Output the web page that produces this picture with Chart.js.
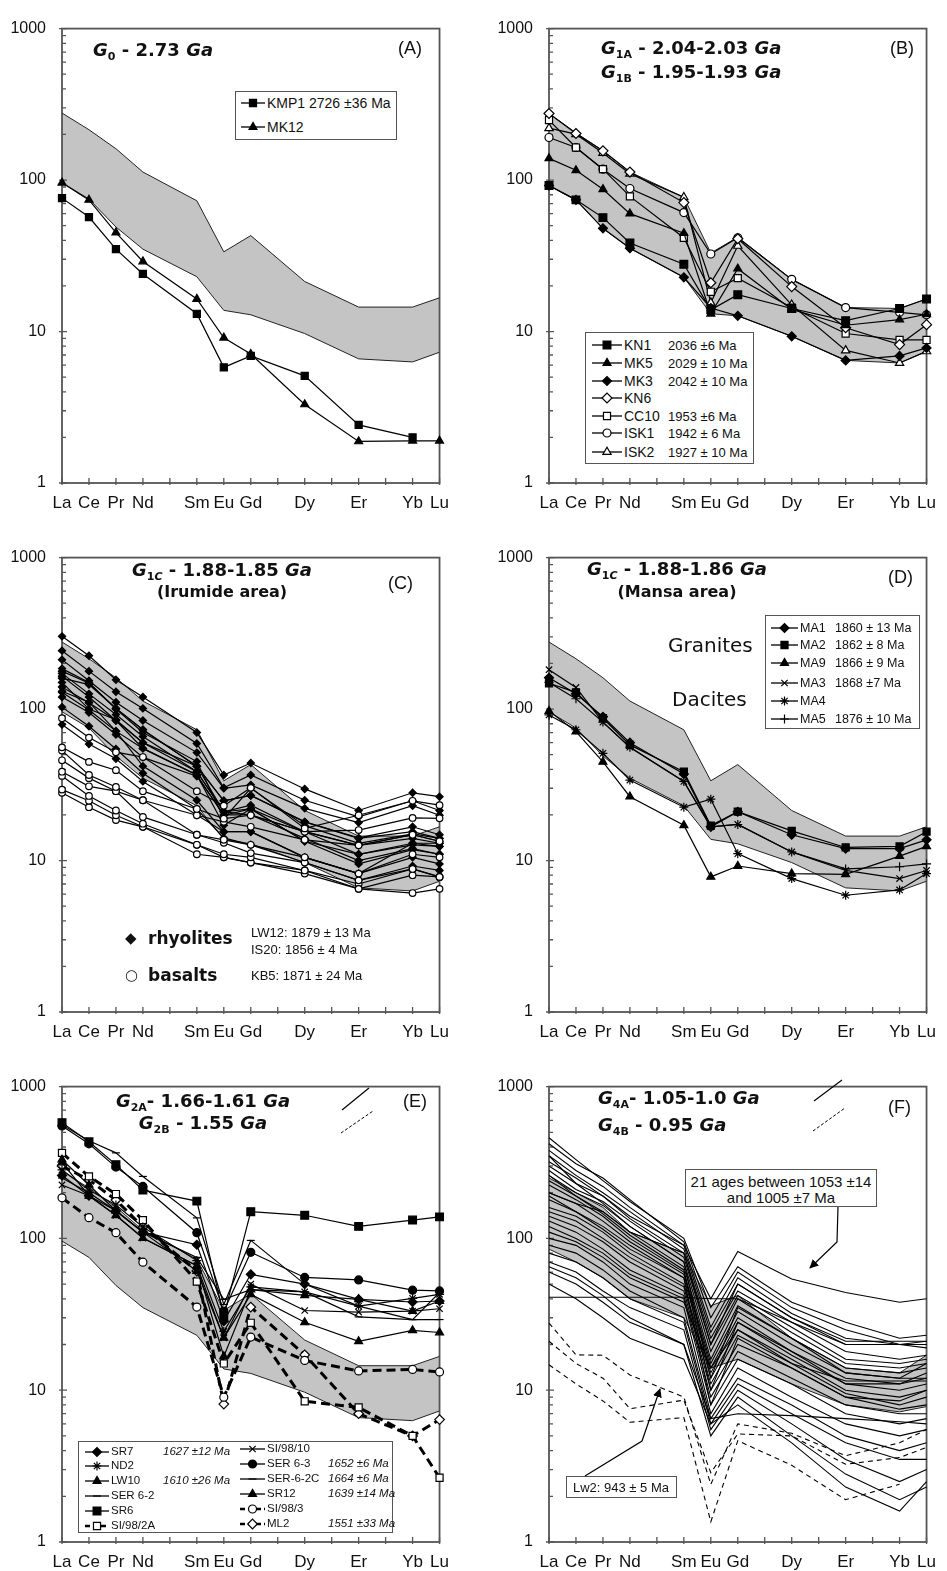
<!DOCTYPE html>
<html><head><meta charset="utf-8"><title>REE patterns</title>
<script src="https://cdn.jsdelivr.net/npm/chart.js@4/dist/chart.umd.js"></script>
<style>
html,body{margin:0;padding:0;background:#fff;}
#wrap{position:relative;width:947px;height:1571px;overflow:hidden;background:#fff;}
#wrap canvas{position:absolute;}
.t{position:absolute;white-space:nowrap;color:#111;line-height:1;font-family:"Liberation Sans",Arial,sans-serif;}
.ttl{font-family:"DejaVu Sans",sans-serif;font-weight:bold;font-size:18px;}
.ttl sub{font-size:11px;vertical-align:-4px;line-height:0;}
.pl{font-size:18px;}
.box{position:absolute;border:1.5px solid #555;background:#fff;box-sizing:border-box;}
svg#ann{position:absolute;left:0;top:0;}
</style></head>
<body><div id="wrap"></div>
<script>
// ---------------- axes ----------------
const ELEMENTS = ['La','Ce','Pr','Nd','Pm','Sm','Eu','Gd','Tb','Dy','Ho','Er','Tm','Yb','Lu'];
const X_TICK_LABELS = ['La','Ce','Pr','Nd','','Sm','Eu','Gd','','Dy','','Er','','Yb','Lu'];
const REE = ['La','Ce','Pr','Nd','Sm','Eu','Gd','Dy','Er','Yb','Lu'];
const Y_TICKS = [1, 10, 100, 1000];
const Y_MINOR = [2,3,4,5,6,7,8,9,20,30,40,50,60,70,80,90,200,300,400,500,600,700,800,900];

// ---------------- shared granite/dacite envelope ----------------
const GRANITE_UPPER = [277, 215, 161, 113, 73, 33.6, 43, 21.4, 14.5, 14.5, 16.7];
const GRANITE_LOWER = [96, 75, 49, 35, 23, 13.8, 12.9, 9.7, 6.6, 6.3, 7.3];

// ---------------- (A) ----------------
const A_KMP1 = [76, 57, 35, 24, 13.1, 5.8, 6.9, 5.1, 2.42, 2.0, null];
const A_MK12 = [96, 74, 45, 29, 16.4, 9.1, 7.1, 3.3, 1.88, 1.9, 1.9];

// ---------------- (B) ----------------
const B_ENV_UPPER = [275, 205, 156, 113, 77, 33, 42, 22.1, 14.4, 14.2, 16.4];
const B_ENV_LOWER = [92, 74, 48, 35.5, 22.8, 13.1, 12.7, 9.3, 6.45, 6.2, 7.4];
const B_KN1  = [92, 74, 56.5, 38.4, 27.8, 13.9, 17.5, 14.2, 11.8, 14.2, 16.4];
const B_MK5  = [139, 116, 87, 60, 44.6, 13.1, 26, 14, 11, 12, 13];
const B_MK3  = [92, 74, 48, 35.5, 22.8, 14.3, 12.7, 9.3, 6.45, 6.9, 7.8];
const B_KN6  = [275, 203, 156, 113, 71, 21, 41, 19.8, 10.6, 8.2, 11.1];
const B_CC10 = [249, 164, 118, 78, 41.6, 18.3, 22.5, 14.4, 9.7, 8.8, 8.8];
const B_ISK1 = [191, 164, 118, 88, 61, 32.5, 41.6, 22.1, 14.4, 13.4, 12.9];
const B_ISK2 = [220, 201, 151, 110, 77, 15.5, 36.8, 15, 7.5, 6.2, 7.4];

// ---------------- (C) rhyolites ----------------
const C_R01 = [302, 225, 156, 120, 70, 36.7, 44, 29.7, 21.4, 28, 26.4];
const C_R02 = [243, 178, 130, 101, 59.3, 30.2, 36.7, 25, 19.4, 24.8, 21.4];
const C_R03 = [212, 154, 111, 84, 51.6, 30, 31.6, 22.1, 17.8, 23, 19.9];
const C_R04 = [178, 148, 101, 73, 42, 24.8, 26.9, 18, 14.1, 16.7, 14.8];
const C_R05 = [172, 126, 92, 66, 38.6, 21, 23.2, 15.5, 12.6, 14.8, 13.4];
const C_R06 = [165, 120, 84, 55, 36.7, 19.9, 21.9, 13.4, 11, 12.7, 12.4];
const C_R07 = [131, 111, 71.5, 55, 36.7, 17.1, 21.9, 13.4, 9.5, 11.8, 11];
const C_R08 = [129, 98.6, 71.5, 42, 25, 15.5, 15.5, 10.5, 8.2, 10.5, 9.5];
const C_R09 = [103, 77, 54.5, 37.7, 21.9, 14.1, 12.7, 9.7, 7.4, 9.2, 8.6];
const C_R10 = [79, 58.7, 47, 33.3, 20, 15.5, 15.5, 10.5, 8.2, 13, 13];
const C_R11 = [160, 145, 101, 73, 42, 24.8, 26.9, 18, 14, 15.5, 14];
const C_R12 = [140, 110, 84, 60, 38.6, 21, 20, 15.5, 12.6, 14, 13];
const C_R13 = [150, 100, 85, 60, 42, 21, 21.9, 15.5, 11, 13, 12.4];
const C_R14 = [120, 95, 68, 48, 36, 20, 20, 14, 10, 12, 11];
const C_R15 = [185, 150, 100, 70, 45, 19, 30, 17, 13, 15, 14];
// ---------------- (C) basalts ----------------
const C_B01 = [87, 64.8, 51.9, 48.2, 28.7, 23, 30.2, 16.3, 19.9, 24.8, 23.2];
const C_B02 = [55.9, 44.8, 39.5, 28.7, 21.9, 18.9, 19.9, 15.5, 15.9, 19.1, 19];
const C_B03 = [53.2, 36.7, 30.6, 25, 19.9, 18, 16.7, 13.7, 12.6, 14.8, 13.4];
const C_B04 = [45.9, 35, 28.7, 25, 14.8, 13.7, 12.7, 10.5, 8.2, 11, 10.5];
const C_B05 = [38.6, 30.9, 28.7, 19.4, 14.8, 13.1, 11.2, 9.7, 7.4, 8.8, 7.8];
const C_B06 = [36.2, 26.7, 21.4, 17.5, 12.7, 11, 10.5, 8.6, 6.5, 8, 7.8];
const C_B07 = [29.4, 24.8, 19.9, 16.7, 12.7, 10.5, 9.7, 8.2, 6.5, 6.1, 6.5];
const C_B08 = [28, 22.5, 18.5, 16.7, 11, 10.5, 9.7, 8.6, 7, 8.8, 7.8];

// ---------------- (D) ----------------
const D_MA1 = [161, 126, 89, 60, 37.3, 16.7, 21, 14.8, 12, 12, 13.7];
const D_MA2 = [148, 129, 87, 58, 38.6, 17, 21, 15.7, 12.2, 12.4, 15.5];
const D_MA9 = [97, 71, 44.8, 26.4, 17.1, 7.8, 9.2, 8.2, 8.1, 10.7, 12.4];
const D_MA3 = [182, 139, 82, 56, 33.3, 16.7, 17.3, 11.4, 8.6, 7.6, 8.6];
const D_MA4 = [91.5, 73, 51, 34, 22.5, 25.4, 11.1, 7.6, 5.9, 6.4, 8.2];
const D_MA5 = [150, 117, 82, 55.9, 33.3, 16.7, 17.3, 11.4, 8.8, 9.1, 9.5];

// ---------------- (E) ----------------
const E_SR7    = [260, 191, 152, 110, 90.8, 28.5, 58, 50, 39.7, 38.1, 38.7];
const E_ND2    = [283, 208, 166, 119, 71.4, 24.4, 48, 44.4, 35.8, 40.3, 42.8];
const E_LW10   = [316, 191, 142, 100.5, 66, 16.7, 46, 42.2, 39.7, 33.2, 38.7];
const E_SER62  = [560, 440, 366, 256, 136.5, 36.7, 97, 50, 35.8, 29.2, 29.2];
const E_SR6    = [579, 433, 306, 208, 176, 30.8, 150, 142, 120, 132, 138.6];
const E_SI982A = [366, 256, 196, 132, 52, 15, 27.8, 8.45, 7.7, 5.0, 2.65];
const E_SI9810 = [225, 191, 142, 100.5, 66, 22.1, 50, 33.5, 32.7, 33.2, 34.4];
const E_SER63  = [550, 420, 295, 220, 109, 33.2, 81, 55.3, 53.3, 45.6, 45.1];
const E_SER62C = [250, 200, 152, 110, 75, 39.7, 46, 44.4, 30.4, 29.2, 44];
const E_SR12   = [330, 225, 152, 110, 61, 22.1, 42.8, 28, 21, 24.8, 24];
const E_SI983  = [185, 137, 109, 69.7, 35.3, 9, 22.4, 15.7, 13.4, 13.7, 13.2];
const E_ML2    = [300, 243, 179, 119, 61, 8.1, 35.3, 17.1, 7, 5.0, 6.4];

// ---------------- (F) ----------------
const F_ENV_UPPER = [250, 200, 160, 110, 80, 36, 42, 22, 14, 13, 17];
const F_ENV_LOWER = [85, 70, 55, 40, 30, 14, 16, 11, 8, 7.2, 7.8];
const F_L01 = [460, 330, 240, 175, 100, 35, 65, 38, 28, 22, 23];
const F_L02 = [420, 310, 250, 180, 95, 30, 60, 35, 25, 20, 21];
const F_L03 = [380, 280, 220, 160, 90, 26, 55, 32, 22, 20, 20];
const F_L04 = [350, 260, 200, 150, 85, 24, 50, 30, 20, 20, 19];
const F_L05 = [320, 250, 190, 135, 80, 22, 45, 28, 18, 16, 17];
const F_L06 = [300, 230, 190, 140, 90, 40, 82, 54, 44, 38, 40];
const F_L07 = [280, 210, 175, 130, 75, 20, 42, 26, 16, 15, 16];
const F_L08 = [260, 200, 165, 120, 70, 18, 40, 24, 15, 14, 15];
const F_L09 = [240, 190, 150, 110, 65, 16, 36, 22, 14, 13, 14];
const F_L10 = [225, 180, 140, 100, 60, 15, 33, 20, 13, 12, 12];
const F_L11 = [200, 170, 130, 95, 58, 14, 30, 18, 12, 11, 12];
const F_L12 = [180, 150, 120, 90, 55, 13, 28, 17, 11, 10, 11];
const F_L13 = [160, 140, 110, 80, 50, 12, 25, 16, 10, 9, 10];
const F_L14 = [150, 130, 100, 75, 48, 11, 23, 15, 9.5, 8, 9];
const F_L15 = [140, 120, 95, 70, 45, 10, 20, 14, 9, 7.5, 8];
const F_L16 = [130, 110, 85, 62, 42, 9, 18, 12, 8, 7, 7];
const F_L17 = [120, 100, 80, 58, 40, 8, 16, 11, 7, 6, 6.5];
const F_L18 = [100, 90, 70, 50, 35, 7, 14, 9, 6, 5, 5.5];
const F_L19 = [90, 80, 62, 45, 30, 6.5, 12, 8, 5, 4, 4.5];
const F_L20 = [80, 70, 55, 40, 28, 6, 11, 7, 4.5, 3.5, 3.5];
const F_L21 = [70, 60, 45, 35, 25, 5.5, 10, 6, 3.5, 2.5, 3];
const F_L22 = [60, 50, 38, 28, 20, 5, 9, 5, 2.8, 1.9, 2.3];
const F_L23 = [50, 40, 30, 22, 16, 6, 8, 4.5, 2.3, 1.6, 2.5];
const F_L24 = [41, 41, 41, 41, 41, 40, 40, 28, 20, 20, 20];
const F_L25 = [200, 170, 150, 110, 80, 20, 50, 30, 21, 21, 21];
const F_L26 = [350, 230, 170, 120, 70, 12, 35, 22, 13, 12, 15];
const F_L27 = [260, 190, 145, 105, 62, 10, 28, 18, 11, 11, 13];
const F_L28 = [190, 150, 115, 85, 55, 8, 22, 14, 9, 8.5, 10];
const F_L29 = [65, 55, 42, 30, 20, 6.5, 7, 6.8, 6.5, 6.2, 6];
const F_L30 = [110, 95, 75, 55, 38, 14, 25, 15, 11.5, 11.5, 11.5];
const F_LW2a = [27.7, 17.1, 17, 12.6, 9.0, 2.4, 6.0, 5.2, 3.7, 4.5, 5.5];
const F_LW2b = [21, 15, 12, 7.55, 8.6, 2.86, 5.15, 5, 3.25, 3.6, 4.2];
const F_LW2c = [14.7, 11, 8.5, 6.15, 6.6, 1.36, 4.65, 3.2, 1.9, 2.4, null];

// ---------------- geometry ----------------
const PANELS = {
  A:{l:62, t:15, r:445, b:483}, B:{l:549, t:15, r:932, b:483},
  C:{l:62, t:544, r:445, b:1012}, D:{l:549, t:544, r:932, b:1012},
  E:{l:62, t:1073, r:445, b:1542}, F:{l:549, t:1073, r:932, b:1542}
};
const wrap = document.getElementById('wrap');

function pts(vals){
  const out = [];
  vals.forEach((v,i)=>{ if(v!=null) out.push({x: ELEMENTS.indexOf(REE[i]), y: v}); });
  return out;
}
function series(vals, st){
  st = st || {};
  return {
    data: pts(vals), borderColor:'#000', borderWidth: st.lw || 1.2, borderDash: st.dash || [],
    pointStyle: st.ps || 'circle', pointRadius: st.ps ? (st.r || 4) : 0,
    pointBackgroundColor: st.open ? '#fff' : '#000', pointBorderColor:'#000', pointBorderWidth: 1.2,
    fill:false, tension:0, clip:false, order:0
  };
}
function envelope(upper, lower){
  return [
    {data:pts(upper), borderColor:'#222', borderWidth:1, pointRadius:0, fill:'+1', backgroundColor:'#c4c4c4', tension:0, order:5},
    {data:pts(lower), borderColor:'#222', borderWidth:1, pointRadius:0, fill:false, backgroundColor:'#c4c4c4', tension:0, order:5}
  ];
}

const framePlugin = {
  id:'frame',
  beforeDatasetsDraw(chart){
    const {ctx, chartArea:a, scales:{x, y}} = chart;
    ctx.save();
    ctx.strokeStyle = '#555'; ctx.lineWidth = 1.8;
    ctx.strokeRect(a.left, a.top, a.right - a.left, a.bottom - a.top);
    ctx.lineWidth = 1.3;
    ctx.beginPath();
    for (let i = 0; i < ELEMENTS.length; i++){
      const px = x.getPixelForValue(i);
      ctx.moveTo(px, a.bottom + 2); ctx.lineTo(px, a.bottom - 5);
    }
    Y_MINOR.forEach(v=>{ const py = y.getPixelForValue(v); ctx.moveTo(a.left, py); ctx.lineTo(a.left + 4, py); });
    Y_TICKS.forEach(v=>{ const py = y.getPixelForValue(v); ctx.moveTo(a.left - 3, py); ctx.lineTo(a.left + 5, py); });
    ctx.stroke();
    ctx.restore();
  }
};

function makeChart(key, datasets){
  const rc = PANELS[key];
  const PADL = 55, PADT = 12, PADR = 14, PADB = 32;
  const w = rc.r - rc.l + PADL + PADR, h = rc.b - rc.t + PADT + PADB;
  const cv = document.createElement('canvas');
  cv.width = w; cv.height = h;
  cv.style.left = (rc.l - PADL) + 'px'; cv.style.top = (rc.t - PADT) + 'px';
  cv.style.width = w + 'px'; cv.style.height = h + 'px';
  wrap.appendChild(cv);
  new Chart(cv.getContext('2d'), {
    type:'line',
    data:{datasets},
    options:{
      responsive:false, animation:false, devicePixelRatio:1, events:[],
      layout:{autoPadding:false, padding:{left:0, top:PADT, right:PADR, bottom:0}},
      plugins:{legend:{display:false}, tooltip:{enabled:false}, filler:{propagate:false, drawTime:'beforeDatasetsDraw'}},
      scales:{
        x:{type:'linear', min:0, max:14, grid:{display:false, drawTicks:false}, border:{display:false},
           afterBuildTicks(s){ s.ticks = ELEMENTS.map((e,i)=>({value:i})); },
           afterFit(s){ s.height = PADB; },
           ticks:{autoSkip:false, maxRotation:0, minRotation:0, padding:10, color:'#111',
                  font:{family:'Liberation Sans', size:17}, callback:(v)=> X_TICK_LABELS[v] || ''}},
        y:{type:'logarithmic', min:1, max:1000, grid:{display:false, drawTicks:false}, border:{display:false},
           afterBuildTicks(s){ s.ticks = Y_TICKS.map(v=>({value:v, major:true})); },
           afterFit(s){ s.width = PADL; },
           ticks:{autoSkip:false, padding:16, color:'#111',
                  font:{family:'Liberation Sans', size:16}, callback:(v)=> String(v)}}
      }
    },
    plugins:[framePlugin]
  });
}

// styles
const ST = {
  sq:{ps:'rect', r:5}, tri:{ps:'triangle', r:4.6}, dia:{ps:'rectRot', r:4.5},
  osq:{ps:'rect', r:5, open:true}, otri:{ps:'triangle', r:4.8, open:true}, odia:{ps:'rectRot', r:5, open:true},
  ocirc:{ps:'circle', r:4, open:true}, circ:{ps:'circle', r:4},
  xx:{ps:'crossRot', r:4.5}, plus:{ps:'cross', r:4.5}, star:{ps:'star', r:4.5}, dash:{ps:'line', r:4},
  cdia:{ps:'rectRot', r:3.6}, ccirc:{ps:'circle', r:3.3, open:true},
  eosq:{ps:'rect', r:5, open:true, lw:3, dash:[9,5]}, eocirc:{ps:'circle', r:4, open:true, lw:3, dash:[9,5]},
  eodia:{ps:'rectRot', r:4.8, open:true, lw:3, dash:[9,5]},
  fsolid:{lw:1.1}, fdash:{lw:1.1, dash:[5,4]}
};

// ---------- charts ----------
makeChart('A', [...envelope(GRANITE_UPPER, GRANITE_LOWER), series(A_KMP1, ST.sq), series(A_MK12, ST.tri)]);
makeChart('B', [...envelope(B_ENV_UPPER, B_ENV_LOWER),
  series(B_KN1, {ps:'rect', r:5.5}), series(B_MK5, ST.tri), series(B_MK3, ST.dia), series(B_KN6, ST.odia),
  series(B_CC10, ST.osq), series(B_ISK1, ST.ocirc), series(B_ISK2, ST.otri)]);
makeChart('C', [...envelope(GRANITE_UPPER, GRANITE_LOWER),
  ...[C_B01,C_B02,C_B03,C_B04,C_B05,C_B06,C_B07,C_B08].map(v=>series(v, ST.ccirc)),
  ...[C_R01,C_R02,C_R03,C_R04,C_R05,C_R06,C_R07,C_R08,C_R09,C_R10,C_R11,C_R12,C_R13,C_R14,C_R15].map(v=>series(v, ST.cdia))]);
makeChart('D', [...envelope(GRANITE_UPPER, GRANITE_LOWER),
  series(D_MA1, ST.dia), series(D_MA2, ST.sq), series(D_MA9, ST.tri), series(D_MA3, ST.xx), series(D_MA4, ST.star), series(D_MA5, ST.plus)]);
makeChart('E', [...envelope(GRANITE_UPPER, GRANITE_LOWER),
  series(E_SR7, ST.dia), series(E_ND2, ST.star), series(E_LW10, ST.tri), series(E_SER62, ST.dash), series(E_SR6, {ps:'rect', r:5.5}),
  series(E_SI9810, ST.xx), series(E_SER63, ST.circ), series(E_SER62C, ST.dash), series(E_SR12, ST.tri),
  series(E_SI982A, ST.eosq), series(E_SI983, ST.eocirc), series(E_ML2, ST.eodia)]);
makeChart('F', [...envelope(F_ENV_UPPER, F_ENV_LOWER),
  ...[F_L01,F_L02,F_L03,F_L04,F_L05,F_L06,F_L07,F_L08,F_L09,F_L10,F_L11,F_L12,F_L13,F_L14,F_L15,
      F_L16,F_L17,F_L18,F_L19,F_L20,F_L21,F_L22,F_L23,F_L24,F_L25,F_L26,F_L27,F_L28,F_L29,F_L30].map(v=>series(v, ST.fsolid)),
  ...[F_LW2a,F_LW2b,F_LW2c].map(v=>series(v, ST.fdash))]);

// ---------- text helpers ----------
function T(x, y, html, cls, css, center){
  const d = document.createElement('div');
  d.className = 't ' + (cls || '');
  d.innerHTML = html;
  d.style.left = x + 'px'; d.style.top = y + 'px';
  if (css) d.style.cssText += css;
  d.style.transform = center ? 'translate(-50%,-50%)' : 'translate(0,-50%)';
  wrap.appendChild(d);
  return d;
}
function BOX(x, y, w, h){
  const d = document.createElement('div'); d.className = 'box';
  d.style.left = x+'px'; d.style.top = y+'px'; d.style.width = w+'px'; d.style.height = h+'px';
  wrap.appendChild(d);
}
function SYM(x, y, w, st){
  const c = document.createElement('canvas');
  c.width = w; c.height = 16; c.style.left = x+'px'; c.style.top = (y-8)+'px'; c.style.width = w+'px'; c.style.height='16px';
  c.style.zIndex = 3;
  const ctx = c.getContext('2d');
  ctx.strokeStyle = '#000'; ctx.lineWidth = st.lw ? Math.min(st.lw, 2.5) : 1.3;
  if (st.dash) ctx.setLineDash([5,3]);
  ctx.beginPath(); ctx.moveTo(0,8); ctx.lineTo(w,8); ctx.stroke(); ctx.setLineDash([]);
  if (st.ps){
    ctx.fillStyle = st.open ? '#fff' : '#000'; ctx.lineWidth = 1.2;
    if (Chart.helpers && Chart.helpers.drawPoint){
      Chart.helpers.drawPoint(ctx, {pointStyle: st.ps, radius: st.r, rotation: 0, borderWidth: 1.2}, w/2, 8);
    }
  }
  wrap.appendChild(c);
}
const Z = 'z-index:4;';

// ---------- (A) ----------
T(93, 50, '<i>G</i><sub>0</sub> - 2.73 <i>Ga</i>', 'ttl', Z);
T(398, 48, '(A)', 'pl', Z);
BOX(235, 91, 162, 49);
SYM(241, 103, 24, ST.sq); T(267, 103, 'KMP1 2726 ±36 Ma', '', 'font-size:14px;'+Z);
SYM(241, 127, 24, ST.tri); T(267, 127, 'MK12', '', 'font-size:14px;'+Z);

// ---------- (B) ----------
T(601, 48, '<i>G</i><sub>1A</sub> - 2.04-2.03 <i>Ga</i>', 'ttl', Z);
T(601, 72, '<i>G</i><sub>1B</sub> - 1.95-1.93 <i>Ga</i>', 'ttl', Z);
T(890, 48, '(B)', 'pl', Z);
BOX(585, 332, 169, 132);
const B_NAMES = ['KN1','MK5','MK3','KN6','CC10','ISK1','ISK2'];
const B_AGES = ['2036 ±6 Ma','2029 ± 10 Ma','2042 ± 10 Ma','','1953 ±6 Ma','1942 ± 6 Ma','1927 ± 10 Ma'];
const B_SYMS = [{ps:'rect', r:5.5}, ST.tri, ST.dia, ST.odia, ST.osq, ST.ocirc, ST.otri];
const B_ROWS = [345, 363, 381, 398, 416, 433, 452];
B_NAMES.forEach((n,i)=>{ SYM(592, B_ROWS[i], 30, B_SYMS[i]); T(624, B_ROWS[i], n, '', 'font-size:14px;'+Z); T(668, B_ROWS[i], B_AGES[i], '', 'font-size:13px;'+Z); });

// ---------- (C) ----------
T(222, 570, '<i>G</i><sub>1<i>C</i></sub> - 1.88-1.85 <i>Ga</i>', 'ttl', Z, true);
T(222, 592, '(Irumide area)', 'ttl', 'font-size:16px;'+Z, true);
T(388, 583, '(C)', 'pl', Z);
T(125, 938, '◆', '', 'font-family:"DejaVu Sans";font-size:15px;'+Z);
T(148, 938, 'rhyolites', 'ttl', 'font-size:17px;'+Z);
T(125, 975, '○', '', 'font-family:"DejaVu Sans";font-size:15px;'+Z);
T(148, 975, 'basalts', 'ttl', 'font-size:17px;'+Z);
T(251, 932, 'LW12: 1879 ± 13 Ma', '', 'font-size:13px;'+Z);
T(251, 949, 'IS20: 1856 ± 4 Ma', '', 'font-size:13px;'+Z);
T(251, 975, 'KB5: 1871 ± 24 Ma', '', 'font-size:13px;'+Z);

// ---------- (D) ----------
T(677, 569, '<i>G</i><sub>1<i>C</i></sub> - 1.88-1.86 <i>Ga</i>', 'ttl', Z, true);
T(677, 592, '(Mansa area)', 'ttl', 'font-size:16px;'+Z, true);
T(888, 577, '(D)', 'pl', Z);
T(668, 645, 'Granites', '', 'font-family:"DejaVu Sans";font-size:20px;'+Z);
T(672, 699, 'Dacites', '', 'font-family:"DejaVu Sans";font-size:20px;'+Z);
BOX(765, 615, 155, 114);
const D_NAMES = ['MA1','MA2','MA9','MA3','MA4','MA5'];
const D_AGES = ['1860 ± 13 Ma','1862 ± 8 Ma','1866 ± 9 Ma','1868 ±7 Ma','','1876 ± 10 Ma'];
const D_SYMS = [ST.dia, ST.sq, ST.tri, ST.xx, ST.star, ST.plus];
const D_ROWS = [628, 645, 663, 683, 701, 719];
D_NAMES.forEach((n,i)=>{ SYM(771, D_ROWS[i], 27, D_SYMS[i]); T(800, D_ROWS[i], n, '', 'font-size:12.5px;'+Z); T(835, D_ROWS[i], D_AGES[i], '', 'font-size:12.5px;'+Z); });

// ---------- (E) ----------
T(203, 1101, '<i>G</i><sub>2A</sub>- 1.66-1.61 <i>Ga</i>', 'ttl', Z, true);
T(203, 1123, '<i>G</i><sub>2B</sub> - 1.55 <i>Ga</i>', 'ttl', Z, true);
T(403, 1101, '(E)', 'pl', Z);
BOX(78, 1441, 315, 92);
const E_L_NAMES = ['SR7','ND2','LW10','SER 6-2','SR6','SI/98/2A'];
const E_L_AGES = ['1627 ±12 Ma','','1610 ±26 Ma','','',''];
const E_L_SYMS = [ST.dia, ST.star, ST.tri, ST.dash, {ps:'rect', r:5.5}, ST.eosq];
const E_L_ROWS = [1452, 1466, 1481, 1496, 1511, 1526];
E_L_NAMES.forEach((n,i)=>{ SYM(85, E_L_ROWS[i], 24, E_L_SYMS[i]); T(111, E_L_ROWS[i], n, '', 'font-size:11.5px;'+Z); T(163, E_L_ROWS[i], E_L_AGES[i], '', 'font-size:11.5px;font-style:italic;'+Z); });
const E_R_NAMES = ['SI/98/10','SER 6-3','SER-6-2C','SR12','SI/98/3','ML2'];
const E_R_AGES = ['','1652 ±6 Ma','1664 ±6 Ma','1639 ±14 Ma','','1551 ±33 Ma'];
const E_R_SYMS = [ST.xx, ST.circ, ST.dash, ST.tri, ST.eocirc, ST.eodia];
const E_R_ROWS = [1449, 1464, 1479, 1494, 1509, 1524];
E_R_NAMES.forEach((n,i)=>{ SYM(240, E_R_ROWS[i], 25, E_R_SYMS[i]); T(267, E_R_ROWS[i], n, '', 'font-size:11.5px;'+Z); T(328, E_R_ROWS[i], E_R_AGES[i], '', 'font-size:11.5px;font-style:italic;'+Z); });

// ---------- (F) ----------
T(598, 1098, '<i>G</i><sub>4A</sub>- 1.05-1.0 <i>Ga</i>', 'ttl', Z);
T(598, 1125, '<i>G</i><sub>4B</sub> - 0.95 <i>Ga</i>', 'ttl', Z);
T(888, 1107, '(F)', 'pl', Z);
BOX(685, 1169, 192, 38);
T(781, 1181, '21 ages between 1053 ±14', '', 'font-size:15px;'+Z, true);
T(781, 1197, 'and 1005 ±7 Ma', '', 'font-size:15px;'+Z, true);
BOX(566, 1476, 111, 22);
T(621, 1487, 'Lw2: 943 ± 5 Ma', '', 'font-size:13px;'+Z, true);

// ---------- annotation lines ----------
const svgNS = 'http://www.w3.org/2000/svg';
const svg = document.createElementNS(svgNS, 'svg');
svg.setAttribute('id','ann'); svg.setAttribute('width','947'); svg.setAttribute('height','1571');
svg.style.zIndex = 5;
svg.innerHTML = `
<defs><marker id="ah" viewBox="0 0 10 10" refX="9" refY="5" markerWidth="9" markerHeight="9" orient="auto-start-reverse" markerUnits="userSpaceOnUse">
<path d="M0,0 L10,5 L0,10 z" fill="#000"/></marker></defs>
<line x1="342" y1="1110" x2="369" y2="1088" stroke="#000" stroke-width="1.2"/>
<line x1="341" y1="1133" x2="373" y2="1111" stroke="#000" stroke-width="1" stroke-dasharray="3,2"/>
<line x1="814" y1="1101" x2="842" y2="1080" stroke="#000" stroke-width="1.2"/>
<line x1="813" y1="1131" x2="845" y2="1108" stroke="#000" stroke-width="1" stroke-dasharray="3,2"/>
<polyline points="838,1207 837,1242 810,1268" fill="none" stroke="#000" stroke-width="1.2" marker-end="url(#ah)"/>
<polyline points="585,1476 642,1441 660,1389" fill="none" stroke="#000" stroke-width="1.2" marker-end="url(#ah)"/>
`;
wrap.appendChild(svg);
</script></body></html>
